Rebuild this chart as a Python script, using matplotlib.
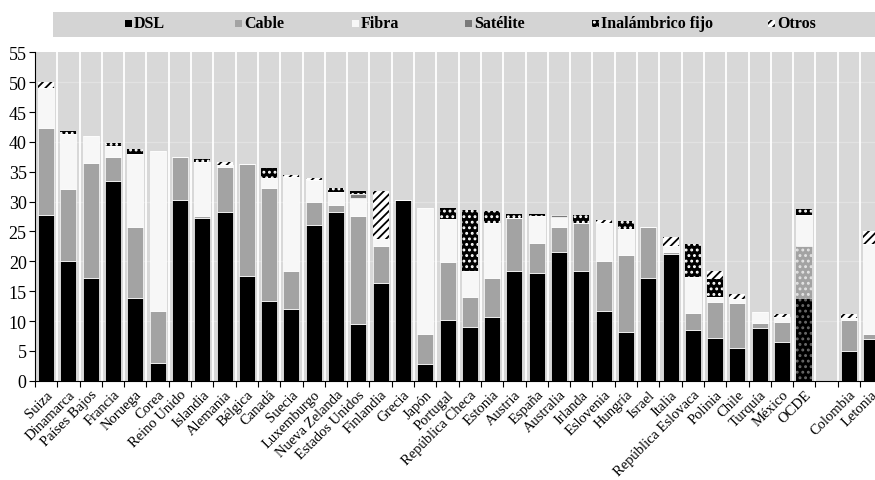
import matplotlib
matplotlib.use("Agg")
import matplotlib.pyplot as plt
from matplotlib.patches import Rectangle

plt.rcParams['font.family'] = ['Liberation Serif', 'DejaVu Serif']
plt.rcParams['hatch.linewidth'] = 1.3

paises = ["Suiza", "Dinamarca", "Países Bajos", "Francia", "Noruega", "Corea",
          "Reino Unido", "Islandia", "Alemania", "Bélgica", "Canadá", "Suecia",
          "Luxemburgo", "Nueva Zelanda", "Estados Unidos", "Finlandia", "Grecia",
          "Japón", "Portugal", "República Checa", "Estonia", "Austria", "España",
          "Australia", "Irlanda", "Eslovenia", "Hungría", "Israel", "Italia",
          "República Eslovaca", "Polinia", "Chile", "Turquía", "México", "OCDE",
          "", "Colombia", "Letonia"]

dsl = [27.8, 20.1, 17.2, 33.4, 13.8, 2.9, 30.2, 27.2, 28.3, 17.6, 13.3, 12.0,
       26.1, 28.2, 9.5, 16.3, 30.3, 2.8, 10.2, 9.0, 10.7, 18.4, 18.0, 21.5,
       18.4, 11.6, 8.2, 17.2, 21.2, 8.5, 7.1, 5.4, 8.9, 6.4, 13.7, 0, 5.0, 7.0]
cable = [14.6, 12.0, 19.2, 4.1, 12.0, 8.7, 7.2, 0.4, 7.5, 18.7, 19.0, 6.3,
         3.8, 1.2, 18.1, 6.3, 0, 5.1, 9.7, 5.1, 6.5, 8.8, 5.0, 4.2,
         8.1, 8.5, 12.9, 8.5, 0.4, 2.9, 6.1, 7.6, 0.8, 3.5, 8.9, 0, 5.1, 0.9]
fibra = [6.7, 9.3, 4.6, 1.9, 12.2, 26.8, 0, 9.1, 0.4, 0, 1.7, 15.8,
         3.8, 2.2, 3.0, 1.1, 0, 21.1, 7.2, 4.2, 9.3, 0, 4.6, 1.8,
         0, 6.4, 4.3, 0, 1.0, 5.9, 0.8, 0.7, 1.8, 0.8, 5.2, 0, 0.4, 15.0]
satelite = [0, 0, 0, 0, 0, 0, 0, 0, 0, 0, 0, 0,
            0, 0, 0.6, 0, 0, 0, 0, 0, 0, 0, 0, 0.3,
            0, 0, 0, 0, 0, 0, 0, 0, 0, 0, 0, 0, 0, 0]
inalambrico = [0, 0.4, 0, 0.5, 0.8, 0, 0, 0.5, 0, 0, 1.7, 0,
               0, 0.6, 0.6, 0, 0, 0, 1.8, 10.3, 2.0, 0.7, 0.4, 0,
               1.3, 0, 1.4, 0, 0, 5.6, 3.0, 0, 0, 0, 1.0, 0, 0, 0]
otros = [0.9, 0, 0, 0, 0, 0, 0, 0, 0.5, 0, 0, 0.3,
         0.3, 0, 0, 8.0, 0, 0, 0, 0, 0, 0, 0, 0,
         0, 0.4, 0, 0, 1.4, 0, 1.4, 0.9, 0, 0.5, 0, 0, 0.7, 2.2]

series = [
    ("DSL", dsl, "#000000", None, "white"),
    ("Cable", cable, "#a3a3a3", None, "white"),
    ("Fibra", fibra, "#f7f7f7", None, "white"),
    ("Satélite", satelite, "#7a7a7a", None, "white"),
    ("Inalámbrico fijo", inalambrico, "#000000", "...", "white"),
    ("Otros", otros, "#ffffff", "////", "black"),
]

fig = plt.figure(figsize=(8.75, 4.81), dpi=100)
ax = fig.add_axes([35 / 875, 1 - 381.7 / 481, 847.4 / 875, 328.3 / 481])
ax.set_facecolor("#d8d8d8")

x = list(range(len(paises)))
bottom = [0.0] * len(paises)
for nombre, vals, col, hatch, hcol in series:
    if hatch:
        bars = ax.bar(x, vals, 0.72, bottom=bottom, color=col, hatch=hatch,
                      edgecolor=hcol, linewidth=0, zorder=3)
    else:
        bars = ax.bar(x, vals, 0.72, bottom=bottom, color=col,
                      edgecolor="white", linewidth=0.5, zorder=3)
    # OCDE con trama de puntos
    i = paises.index("OCDE")
    if nombre == "DSL":
        bars[i].set_hatch("...")
        bars[i].set_edgecolor("#6a6a6a")
        bars[i].set_linewidth(0)
    elif nombre == "Cable":
        bars[i].set_hatch("...")
        bars[i].set_edgecolor("#e4e4e4")
        bars[i].set_linewidth(0)
    bottom = [b + v for b, v in zip(bottom, vals)]

# separadores blancos y líneas de cuadrícula tenues
for k in range(len(paises) - 1):
    ax.axvline(k + 0.5, color="white", lw=1.3, zorder=1)
for yv in range(10, 60, 10):
    ax.axhline(yv, color="#e2e2e2", lw=1.0, zorder=0.5)

ax.set_xlim(-0.5, len(paises) - 0.5)
ax.set_ylim(0, 55)
ax.set_yticks(range(0, 56, 5))
ax.tick_params(axis="y", labelsize=13, length=4, width=0.8, pad=2)
ax.set_xticks(x)
ax.set_xticklabels(paises, rotation=45, ha="right", rotation_mode="anchor",
                   fontsize=10.5)
ax.tick_params(axis="x", length=0, pad=5)
ax.set_xticks([k + 0.5 for k in range(-1, len(paises))], minor=True)
ax.tick_params(axis="x", which="minor", length=4, width=0.8)
for s in ["top", "right"]:
    ax.spines[s].set_visible(False)
ax.spines["left"].set_linewidth(0.8)
ax.spines["bottom"].set_linewidth(0.8)

# leyenda en una banda gris
fig.patches.append(Rectangle((53 / 875, 1 - 38.3 / 481), 1, 25.6 / 481,
                             transform=fig.transFigure, facecolor="#d4d4d4",
                             edgecolor="none", zorder=0))
leg_x = [125, 235, 352, 465, 592, 768]
for (nombre, vals, col, hatch, hcol), px in zip(series, leg_x):
    fig.patches.append(Rectangle((px / 875, 1 - 27.5 / 481), 7 / 875, 7 / 481,
                                 transform=fig.transFigure, facecolor=col,
                                 hatch=hatch, edgecolor=hcol if hatch else "none",
                                 linewidth=0, zorder=2))
    fig.text((px + 9) / 875, 1 - 24.5 / 481, nombre, fontsize=11.5,
             fontweight="bold", va="center", ha="left")

fig.savefig("out.png", dpi=100)
